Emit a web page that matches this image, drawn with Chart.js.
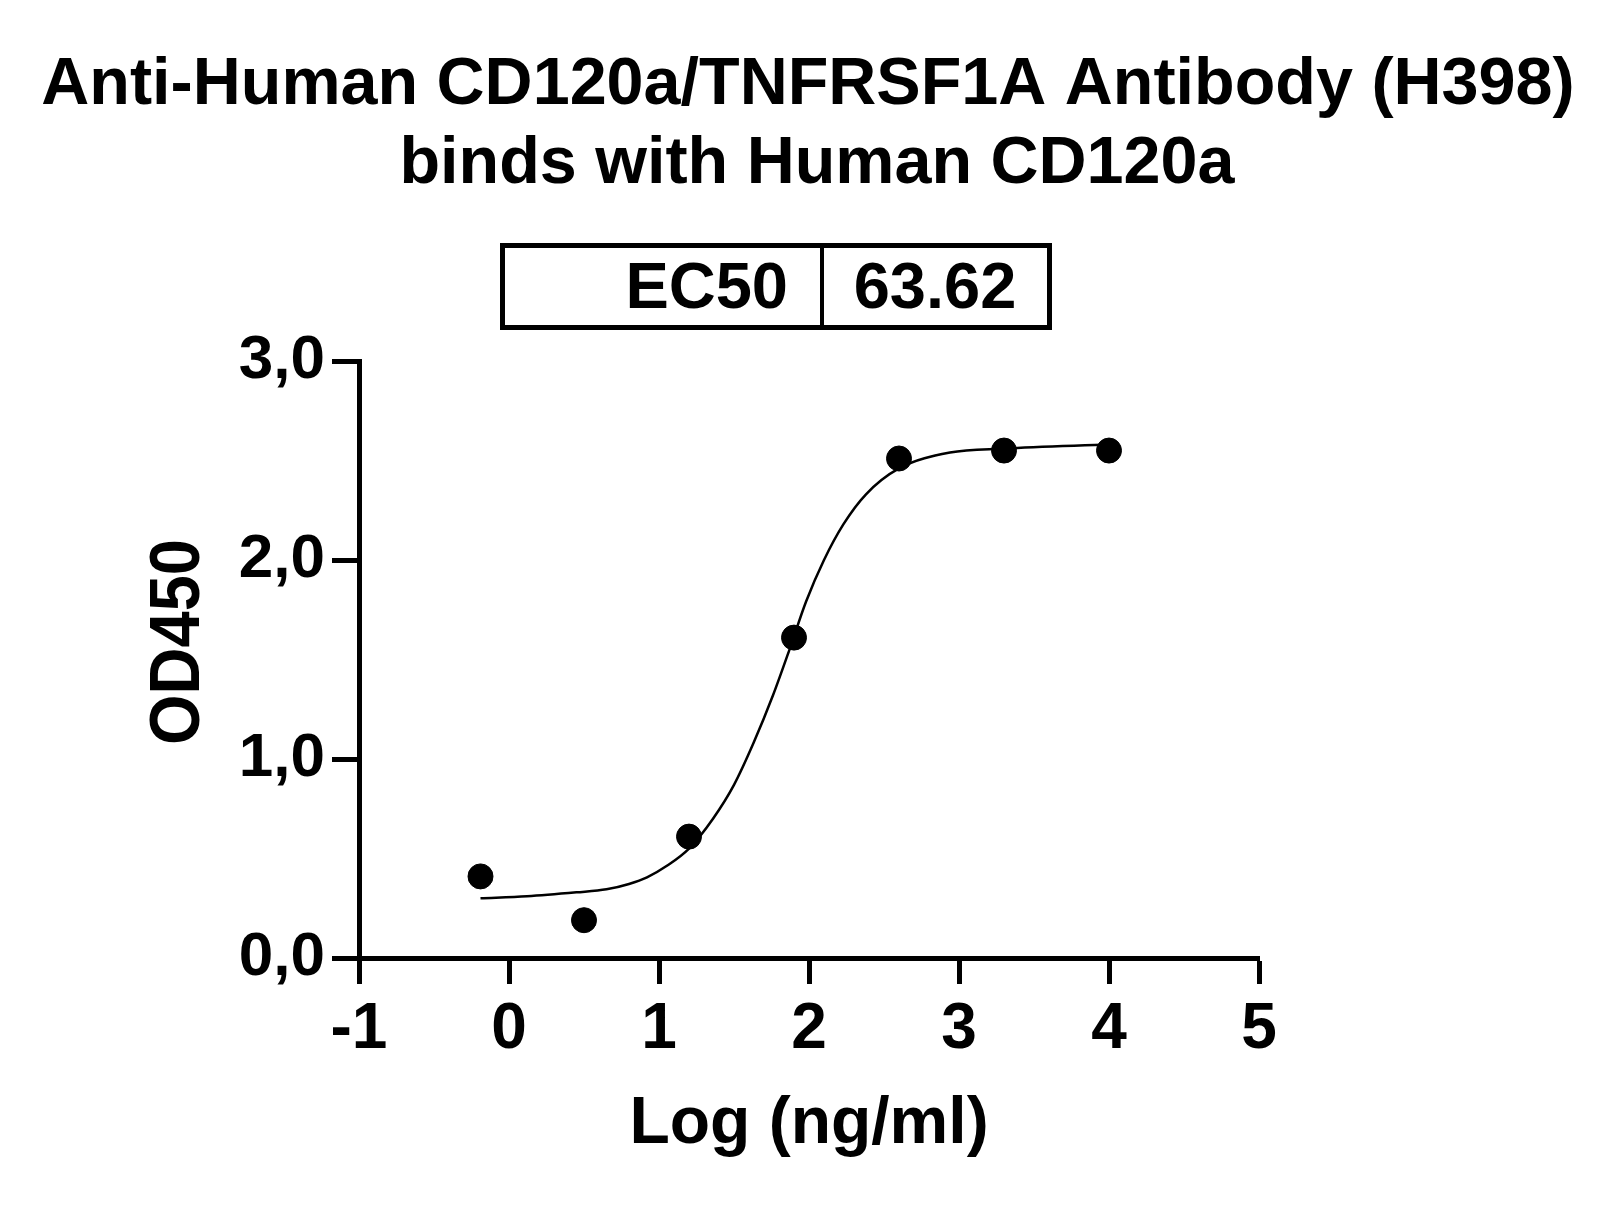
<!DOCTYPE html>
<html>
<head>
<meta charset="utf-8">
<script src="https://cdn.jsdelivr.net/npm/chart.js@4.4.1/dist/chart.umd.min.js"></script>
<style>
  html, body { margin: 0; padding: 0; background: #fff; }
  #wrap { width: 1619px; height: 1208px; position: relative; }
</style>
</head>
<body>
<div id="wrap"><canvas id="ec50-chart"></canvas></div>
<script>
// measured points: log concentration vs OD450
const logConc = [-0.19, 0.5, 1.2, 1.9, 2.6, 3.3, 4.0];
const od450 = [0.41, 0.19, 0.61, 1.61, 2.51, 2.55, 2.55];

// fitted curve
const fitX = [-0.19, 0.12, 0.45, 0.65, 0.8, 0.92, 1.05, 1.2, 1.36, 1.5, 1.63, 1.76, 1.87, 1.98, 2.1, 2.23, 2.38, 2.6, 2.94, 3.3, 4.0];
const fitY = [0.30, 0.31, 0.33, 0.345, 0.372, 0.405, 0.462, 0.55, 0.70, 0.87, 1.08, 1.32, 1.55, 1.79, 2.00, 2.18, 2.33, 2.46, 2.54, 2.56, 2.58];

const xTickLabels = ["-1", "0", "1", "2", "3", "4", "5"];
const yTickLabels = ["0,0", "1,0", "2,0", "3,0"];

const titleLines = ["Anti-Human CD120a/TNFRSF1A Antibody (H398)", "binds with Human CD120a"];
const ec50Label = "EC50";
const ec50Value = "63.62";
const xTitle = "Log (ng/ml)";
const yTitle = "OD450";

const FONT = '"Liberation Sans", Arial, sans-serif';

const decorations = {
  id: "decorations",
  afterDraw(chart) {
    const ctx = chart.ctx;
    ctx.save();
    ctx.fillStyle = "#000";
    ctx.strokeStyle = "#000";

    // title
    ctx.font = "bold 66.5px " + FONT;
    ctx.textAlign = "center";
    ctx.textBaseline = "alphabetic";
    ctx.fillText(titleLines[0], 808, 104);
    ctx.fillText(titleLines[1], 817, 183);

    // EC50 table
    ctx.lineWidth = 5;
    ctx.strokeRect(502.5, 245.5, 547, 82);
    ctx.lineWidth = 4;
    ctx.beginPath();
    ctx.moveTo(822, 246);
    ctx.lineTo(822, 328);
    ctx.stroke();
    ctx.font = "bold 65px " + FONT;
    ctx.textAlign = "right";
    ctx.fillText(ec50Label, 788, 308);
    ctx.textAlign = "center";
    ctx.fillText(ec50Value, 935, 308);

    // y axis title (slightly tall glyphs like the original)
    ctx.font = "bold 65px " + FONT;
    ctx.translate(180, 642);
    ctx.rotate(-Math.PI / 2);
    ctx.scale(1, 1.08);
    ctx.textAlign = "center";
    ctx.textBaseline = "middle";
    ctx.fillText(yTitle, 0, 0);
    ctx.restore();
  }
};

const ctx = document.getElementById("ec50-chart").getContext("2d");
new Chart(ctx, {
  type: "scatter",
  data: {
    datasets: [
      {
        label: "fit",
        data: fitX.map((x, i) => ({ x: x, y: fitY[i] })),
        showLine: true,
        borderColor: "#000",
        borderWidth: 2.5,
        pointRadius: 0,
        cubicInterpolationMode: "monotone",
        fill: false,
      },
      {
        label: "OD450",
        data: logConc.map((x, i) => ({ x: x, y: od450[i] })),
        backgroundColor: "#000",
        borderColor: "#000",
        pointRadius: 12.5,
        pointHoverRadius: 12.5,
      },
    ],
  },
  options: {
    responsive: true,
    maintainAspectRatio: false,
    animation: false,
    layout: { padding: { top: 361, right: 360, left: 0, bottom: 0 } },
    plugins: {
      legend: { display: false },
      tooltip: { enabled: false },
    },
    scales: {
      x: {
        type: "linear",
        min: -1,
        max: 5,
        afterFit: (scale) => { scale.height = 250; },
        border: { display: true, color: "#000", width: 5 },
        grid: { drawOnChartArea: false, drawTicks: true, tickLength: 26, tickWidth: 5, tickColor: "#000" },
        ticks: {
          stepSize: 1,
          color: "#000",
          padding: 8,
          font: { family: FONT, weight: "bold", size: 64 },
          callback: (v, i) => xTickLabels[i],
        },
        title: {
          display: true,
          text: xTitle,
          color: "#000",
          font: { family: FONT, weight: "bold", size: 66 },
          padding: { top: 0, bottom: 44 },
        },
      },
      y: {
        type: "linear",
        min: 0,
        max: 3,
        afterFit: (scale) => { scale.width = 359; },
        border: { display: true, color: "#000", width: 5 },
        grid: { drawOnChartArea: false, drawTicks: true, tickLength: 27, tickWidth: 5, tickColor: "#000" },
        ticks: {
          stepSize: 1,
          color: "#000",
          padding: 7,
          font: { family: FONT, weight: "bold", size: 62 },
          callback: (v, i) => yTickLabels[i],
        },
      },
    },
  },
  plugins: [decorations],
});
</script>
</body>
</html>
